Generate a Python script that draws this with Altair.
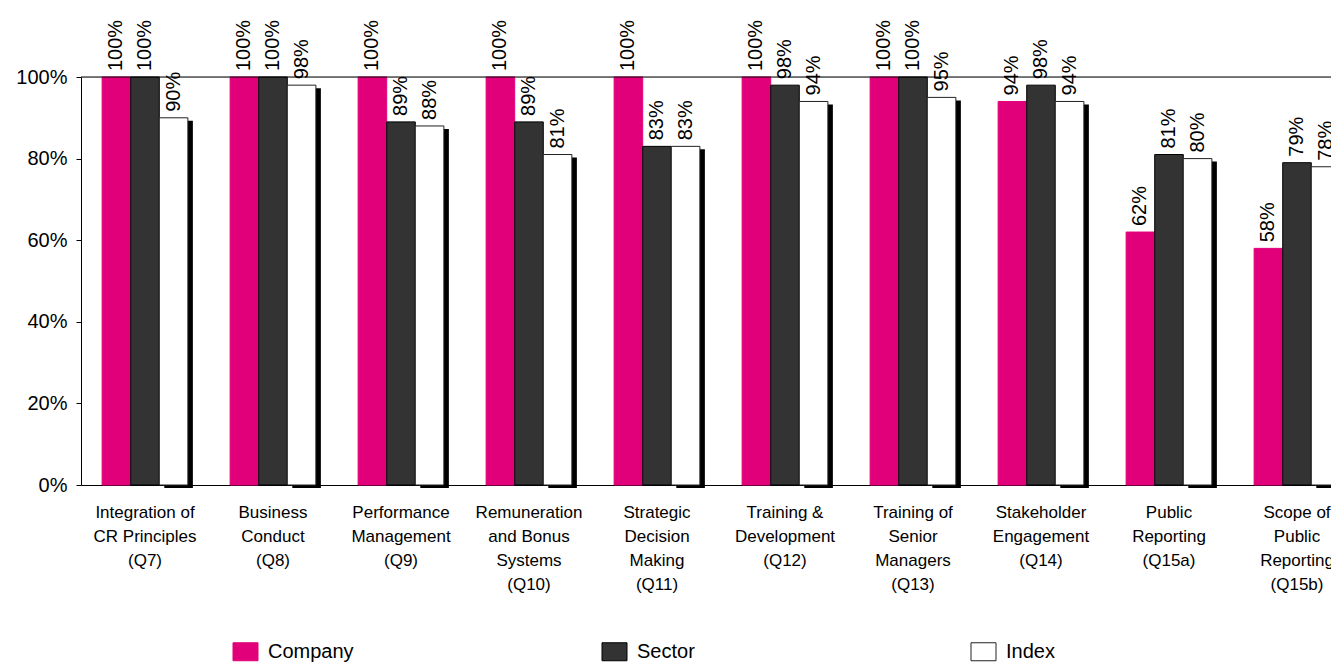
import altair as alt
import pandas as pd

categories = [
    "Integration of|CR Principles|(Q7)",
    "Business|Conduct|(Q8)",
    "Performance|Management|(Q9)",
    "Remuneration|and Bonus|Systems|(Q10)",
    "Strategic|Decision|Making|(Q11)",
    "Training &|Development|(Q12)",
    "Training of|Senior|Managers|(Q13)",
    "Stakeholder|Engagement|(Q14)",
    "Public|Reporting|(Q15a)",
    "Scope of|Public|Reporting|(Q15b)",
]
series = ["Company", "Sector", "Index"]
company = [1.00, 1.00, 1.00, 1.00, 1.00, 1.00, 1.00, 0.94, 0.62, 0.58]
sector = [1.00, 1.00, 0.89, 0.89, 0.83, 0.98, 1.00, 0.98, 0.81, 0.79]
index = [0.90, 0.98, 0.88, 0.81, 0.83, 0.94, 0.95, 0.94, 0.80, 0.78]

rows = []
for name, vals in zip(series, [company, sector, index]):
    for c, v in zip(categories, vals):
        rows.append({"category": c, "series": name, "value": v})
df = pd.DataFrame(rows)

FONT = "Liberation Sans"
fill_colors = ["#E2007A", "#333333", "#FFFFFF"]
stroke_colors = ["#E2007A", "#000000", "#222222"]

PLOT_W = 1280  # full band range (chart is cut off at the right like the original)
VIEW_W = 1250
VIEW_H = 408


def x_enc(shift=0, show_axis=True):
    axis = alt.Axis(
        labelAngle=0,
        labelExpr="split(datum.label, '|')",
        labelFontSize=17,
        labelLineHeight=24,
        labelFont=FONT,
        labelColor="black",
        labelPadding=19,
        labelLimit=300,
        ticks=False,
        domainColor="black",
        labelBaseline="top",
    ) if show_axis else None
    return alt.X(
        "category:N",
        sort=categories,
        title=None,
        scale=alt.Scale(paddingInner=0.33, paddingOuter=0.165,
                        range=[shift, PLOT_W + shift]),
        axis=axis,
    )


xoff_enc = alt.XOffset(
    "series:N", sort=series, scale=alt.Scale(domain=series, paddingInner=0, paddingOuter=0)
)
y_enc = alt.Y(
    "value:Q",
    title=None,
    scale=alt.Scale(domain=[0, 1], nice=False),
    axis=alt.Axis(
        values=[0, 0.2, 0.4, 0.6, 0.8, 1.0],
        format=".0%",
        grid=False,
        labelFontSize=20,
        labelFont=FONT,
        labelColor="black",
        tickColor="black",
        tickSize=5,
        domainColor="black",
        labelPadding=9,
    ),
)

legend = alt.Legend(
    title=None,
    orient="none",
    legendX=154,
    legendY=564,
    direction="horizontal",
    gridAlign="all",
    columnPadding=246,
    symbolType="M-1.25,-0.9H1.25V0.9H-1.25Z",
    symbolSize=400,
    symbolStrokeWidth=1,
    labelFontSize=20,
    labelFont=FONT,
    labelColor="black",
    labelOffset=12,
)

base = alt.Chart(df)

shadow = base.transform_filter(alt.datum.series == "Index").mark_bar(
    color="black", yOffset=3
).encode(x=x_enc(shift=5, show_axis=False), xOffset=xoff_enc, y=y_enc)

bars = base.mark_bar(strokeWidth=1).encode(
    x=x_enc(),
    xOffset=xoff_enc,
    y=y_enc,
    fill=alt.Fill("series:N", sort=series,
                  scale=alt.Scale(domain=series, range=fill_colors), legend=legend),
    stroke=alt.Stroke("series:N", sort=series,
                      scale=alt.Scale(domain=series, range=stroke_colors), legend=legend),
)

labels = base.mark_text(
    angle=270, align="left", baseline="middle", dx=6, fontSize=20, font=FONT, color="black"
).encode(
    x=x_enc(),
    xOffset=xoff_enc,
    y=y_enc,
    text=alt.Text("value:Q", format=".0%"),
)

top_line = alt.Chart(pd.DataFrame({"top": [1.0]})).mark_rule(
    color="black", strokeWidth=1
).encode(
    y=alt.YDatum(1.0),
    x=alt.value(0),
    x2=alt.value(PLOT_W),
)

main = alt.layer(bars, labels, top_line)

chart = (
    alt.layer(shadow, main)
    .resolve_scale(x="independent", xOffset="independent")
    .properties(
        width=VIEW_W,
        height=VIEW_H,
        autosize=alt.AutoSizeParams(type="none"),
        padding={"left": 73, "top": 69, "right": 0, "bottom": 177},
    )
    .configure_view(stroke=None)
    .configure(background="white")
)

chart.save("out.html", embed_options={"renderer": "svg", "actions": False})
